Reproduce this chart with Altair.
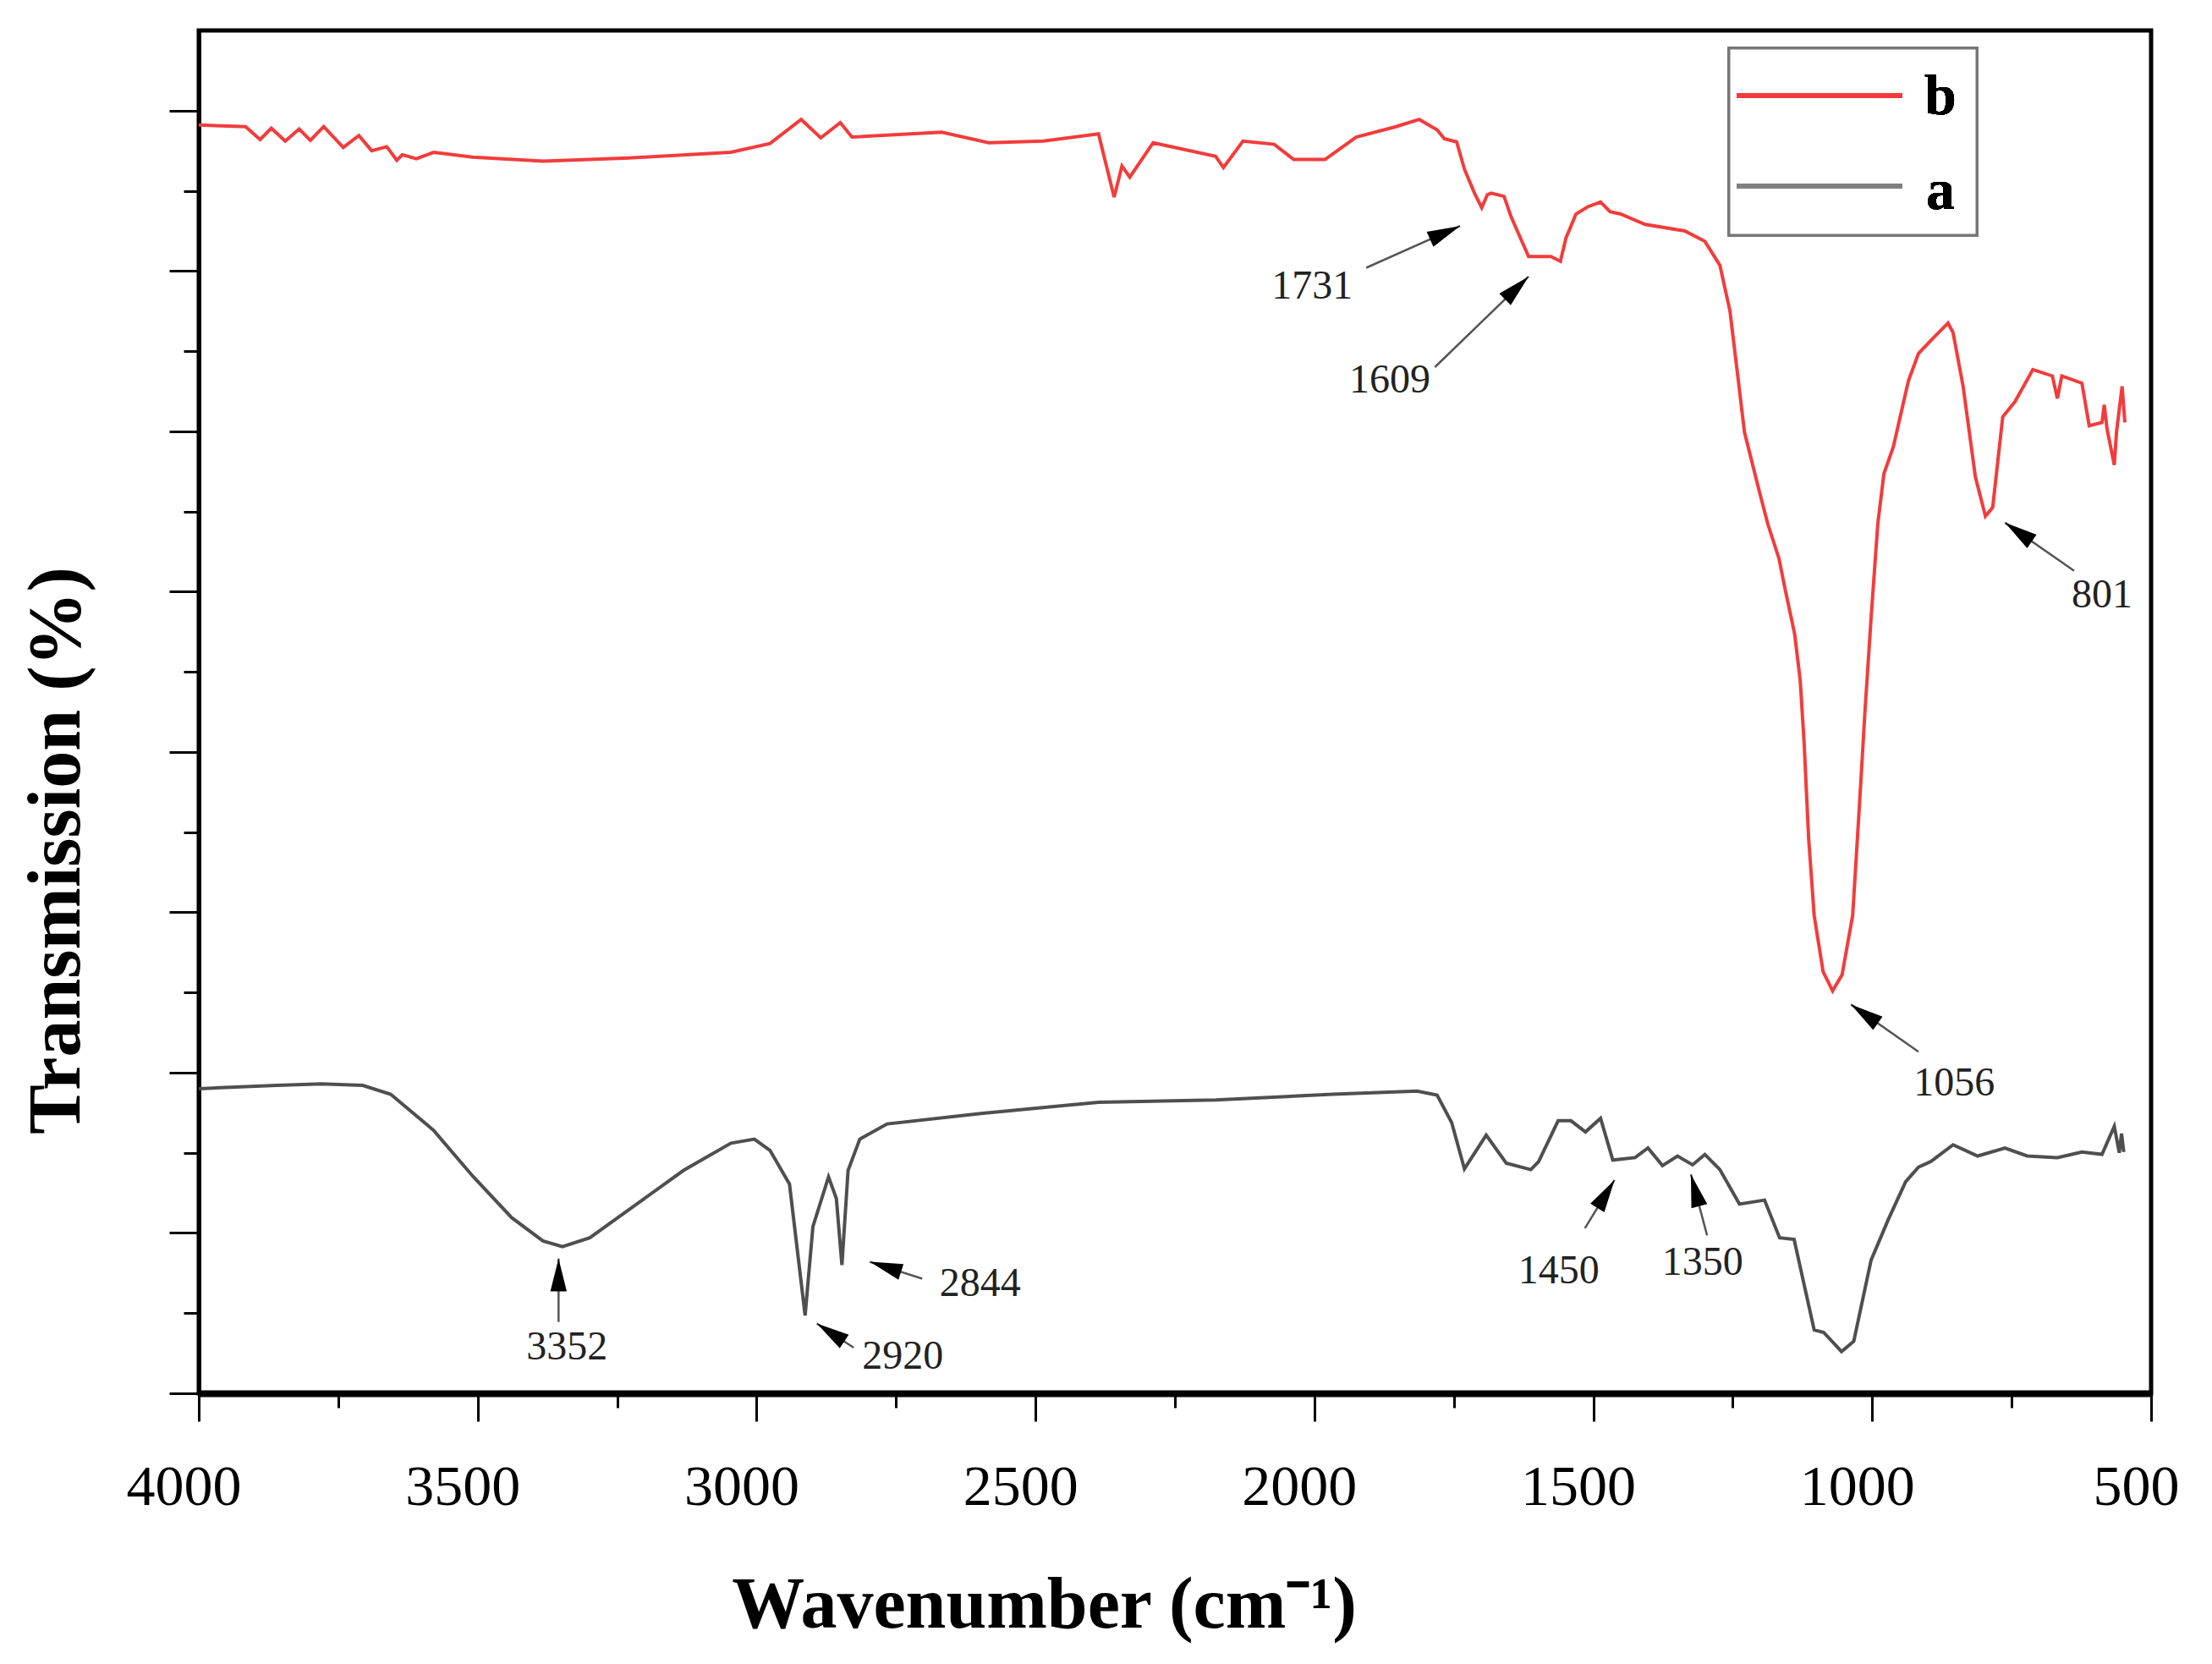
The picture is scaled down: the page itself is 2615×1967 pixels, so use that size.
import numpy as np
import pandas as pd
import altair as alt

# spectrum b (red): wavenumber (cm-1) and transmission
wn_b = [4000, 3916, 3890, 3870, 3845, 3820, 3800, 3776, 3741, 3713,
        3690, 3663, 3645, 3635, 3610, 3579, 3509, 3383, 3229, 3046,
        2976, 2920, 2885, 2850, 2829, 2668, 2584, 2486, 2387, 2359,
        2345, 2331, 2289, 2177, 2163, 2128, 2072, 2037, 1981, 1925,
        1854, 1812, 1780, 1767, 1745, 1731, 1713, 1700, 1690, 1683,
        1660, 1647, 1616, 1576, 1559, 1549, 1531, 1510, 1487, 1470,
        1451, 1407, 1336, 1300, 1273, 1255, 1242, 1229, 1202, 1187,
        1167, 1157, 1139, 1129, 1122, 1114, 1104, 1088, 1071, 1054,
        1035, 1023, 1013, 1002, 990, 979, 962, 935, 917, 891,
        864, 855, 837, 815, 797, 784, 766, 744, 712, 677,
        668, 660, 624, 611, 588, 584, 579, 566, 562, 552,
        547]
t_b = [15.82, 15.80, 15.64, 15.78, 15.62, 15.77, 15.63, 15.80, 15.54, 15.69,
       15.50, 15.55, 15.38, 15.45, 15.40, 15.48, 15.42, 15.37, 15.41, 15.48,
       15.59, 15.89, 15.66, 15.85, 15.67, 15.73, 15.60, 15.62, 15.71, 14.92,
       15.31, 15.17, 15.60, 15.43, 15.29, 15.62, 15.58, 15.39, 15.39, 15.67,
       15.80, 15.89, 15.76, 15.65, 15.61, 15.27, 14.97, 14.79, 14.95, 14.97,
       14.93, 14.67, 14.18, 14.18, 14.12, 14.41, 14.71, 14.80, 14.86, 14.74,
       14.71, 14.58, 14.50, 14.37, 14.07, 13.50, 12.75, 11.99, 11.24, 10.84,
       10.41, 10.06, 9.47, 8.89, 8.11, 6.93, 5.96, 5.26, 5.02, 5.22,
       5.96, 7.32, 8.50, 9.67, 10.84, 11.47, 11.81, 12.63, 12.97, 13.16,
       13.35, 13.23, 12.56, 11.43, 10.94, 11.05, 12.18, 12.37, 12.77, 12.69,
       12.41, 12.69, 12.60, 12.07, 12.11, 12.33, 12.03, 11.58, 11.99, 12.56,
       12.11]

# spectrum a (dark grey)
wn_a = [4000, 3860, 3780, 3706, 3656, 3579, 3509, 3439, 3383, 3348,
        3299, 3215, 3131, 3046, 3004, 2976, 2941, 2913, 2899, 2871,
        2857, 2847, 2836, 2815, 2766, 2598, 2387, 2177, 1967, 1816,
        1780, 1754, 1731, 1692, 1656, 1612, 1598, 1563, 1540, 1514,
        1487, 1465, 1425, 1402, 1376, 1349, 1322, 1300, 1273, 1238,
        1193, 1166, 1140, 1104, 1087, 1055, 1033, 1002, 971, 940,
        917, 895, 855, 811, 762, 722, 668, 624, 588, 566,
        557, 553, 549]
t_a = [3.80, 3.84, 3.86, 3.84, 3.73, 3.28, 2.71, 2.19, 1.90, 1.83,
       1.94, 2.36, 2.78, 3.12, 3.17, 3.03, 2.61, 0.97, 2.08, 2.70,
       2.43, 1.60, 2.78, 3.17, 3.36, 3.49, 3.63, 3.66, 3.73, 3.77,
       3.72, 3.38, 2.80, 3.22, 2.87, 2.79, 2.89, 3.40, 3.40, 3.26,
       3.43, 2.91, 2.94, 3.06, 2.84, 2.96, 2.85, 2.98, 2.79, 2.36,
       2.41, 1.94, 1.92, 0.79, 0.76, 0.52, 0.65, 1.66, 2.17, 2.64,
       2.82, 2.89, 3.10, 2.96, 3.06, 2.96, 2.94, 3.01, 2.98, 3.33,
       3.00, 3.24, 3.01]

# peak labels and their arrows (tail -> head), in data units
ann_text = ["1731", "1609", "801", "1056", "3352", "2920", "2844", "1450", "1350"]
ann_wn = [2004, 1865, 588, 853, 3340, 2738, 2599, 1562, 1304]
ann_t = [13.80, 12.63, 9.95, 3.86, 0.57, 0.45, 1.36, 1.52, 1.63]
tail_wn = [1907, 1784, 638, 917, 3355, 2826, 2703, 1515, 1296]
tail_t = [14.04, 12.80, 10.26, 4.26, 0.89, 0.57, 1.43, 2.06, 1.97]
head_wn = [1739, 1616, 762, 1038, 3355, 2892, 2797, 1462, 1325]
head_t = [14.56, 13.93, 10.86, 4.85, 1.68, 0.87, 1.64, 2.66, 2.73]

W, H = 2308, 1611
SERIF = "Liberation Serif"
RED = "#f23c3c"
GREY = "#4f4f4f"

spec = pd.concat([
    pd.DataFrame({"wn": wn_b, "t": t_b, "s": "b"}),
    pd.DataFrame({"wn": wn_a, "t": t_a, "s": "a"}),
])

# arrowhead direction in screen space
kx, ky = W / 3500, H / 17
dx = (np.array(tail_wn) - np.array(head_wn)) * kx
dy = (np.array(tail_t) - np.array(head_t)) * ky
arrows = pd.DataFrame({"wn": tail_wn, "t": tail_t, "wn2": head_wn, "t2": head_t,
                       "hw": head_wn, "ht": head_t,
                       "ang": np.degrees(np.arctan2(dx, -dy)) % 360})
labels = pd.DataFrame({"wn": ann_wn, "t": ann_t, "txt": ann_text})

xs = alt.Scale(domain=[4000, 500], nice=False)
ys = alt.Scale(domain=[0, 17], nice=False, zero=False)

x_axis = alt.Axis(
    values=list(range(500, 4001, 250)), format="d",
    labelExpr="datum.value % 500 === 0 ? datum.label : ''",
    tickSize={"condition": {"test": "datum.value % 500 === 0", "value": 33}, "value": 17},
    labelFont=SERIF, labelFontSize=68, labelPadding=44, labelColor="black",
    labelFlush=False, labelOffset=-18, labelOverlap=False,
    domainWidth=8, tickWidth=3, grid=False,
    title="Wavenumber (cm⁻¹)", titleFont=SERIF, titleFontSize=86, titleFontWeight="bold",
    titleX=999, titleY=276, titleBaseline="alphabetic", titleAlign="center",
)
y_axis = alt.Axis(
    values=list(range(0, 17)), labels=False,
    tickSize={"condition": {"test": "datum.value % 2 === 0", "value": 35}, "value": 18},
    domainWidth=5, tickWidth=3, grid=False,
    title="Transmission (%)", titleFont=SERIF, titleFontSize=88, titleFontWeight="bold",
    titleAngle=270, titleX=-168, titleY=969, titleAlign="center", titleBaseline="middle",
)

lines = alt.Chart(spec).mark_line(strokeWidth=4, clip=True).encode(
    x=alt.X("wn:Q", scale=xs, axis=x_axis),
    y=alt.Y("t:Q", scale=ys, axis=y_axis),
    color=alt.Color("s:N", scale=alt.Scale(domain=["b", "a"], range=[RED, GREY]), legend=None),
    detail="s:N",
)

shafts = alt.Chart(arrows).mark_rule(color="#555555", strokeWidth=2.5).encode(
    x="wn:Q", y="t:Q", x2="wn2:Q", y2="t2:Q",
)
heads = alt.Chart(arrows).mark_point(
    shape="M0,0L0.5,2L-0.5,2Z", filled=True, color="black", opacity=1, size=1500,
).encode(
    x="hw:Q", y="ht:Q", angle=alt.Angle("ang:Q", scale=None),
)
texts = alt.Chart(labels).mark_text(
    font=SERIF, fontSize=48, color="#222222", align="center", baseline="middle",
).encode(x="wn:Q", y="t:Q", text="txt:N")

# legend box drawn by hand, in pixels of the plot area
box = alt.Chart(labels).mark_rect(fill="white", stroke="#777777", strokeWidth=3).encode(
    x=alt.value(1809), x2=alt.value(2102), y=alt.value(21), y2=alt.value(242),
)
leg_b = alt.Chart(labels).mark_rule(color=RED, strokeWidth=6).encode(
    x=alt.value(1818), x2=alt.value(2014), y=alt.value(77),
)
leg_a = alt.Chart(labels).mark_rule(color="#808080", strokeWidth=6).encode(
    x=alt.value(1818), x2=alt.value(2014), y=alt.value(184),
)
leg_tb = alt.Chart(labels).mark_text(
    text="b", font=SERIF, fontSize=68, fontWeight="bold", color="black", baseline="alphabetic",
).encode(x=alt.value(2059), y=alt.value(99))
leg_ta = alt.Chart(labels).mark_text(
    text="a", font=SERIF, fontSize=68, fontWeight="bold", color="black", baseline="alphabetic",
).encode(x=alt.value(2059), y=alt.value(211))

chart = alt.layer(lines, shafts, heads, texts, box, leg_b, leg_a, leg_tb, leg_ta).properties(
    width=W, height=H,
    autosize=alt.AutoSizeParams(type="none"),
    padding={"left": 227, "top": 28, "right": 64, "bottom": 310},
).configure_view(
    stroke="black", strokeWidth=5,
).configure_axis(
    domainColor="black", tickColor="black", titleColor="black",
)

chart.save("out.html", embed_options={"renderer": "svg", "actions": False})
